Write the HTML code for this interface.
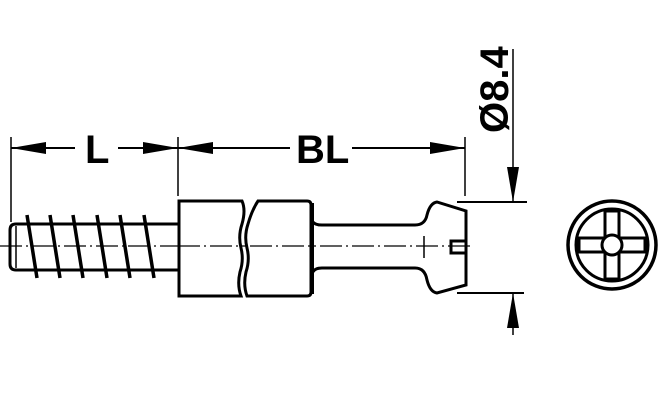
<!DOCTYPE html>
<html><head><style>html,body{margin:0;padding:0;background:#fff;width:660px;height:400px;overflow:hidden}</style></head>
<body>
<svg width="660" height="400" viewBox="0 0 660 400" xmlns="http://www.w3.org/2000/svg">
<g stroke="#000" fill="none">
<!-- extension lines -->
<line x1="11" y1="137" x2="11" y2="222" stroke-width="1.5"/>
<line x1="178" y1="137" x2="178" y2="196" stroke-width="1.5"/>
<line x1="465" y1="137" x2="465" y2="196" stroke-width="1.5"/>
<!-- dim line -->
<line x1="11" y1="148" x2="75" y2="148" stroke-width="2"/>
<line x1="118" y1="148" x2="178" y2="148" stroke-width="2"/>
<line x1="178" y1="148" x2="290" y2="148" stroke-width="2"/>
<line x1="352" y1="148" x2="465" y2="148" stroke-width="2"/>
<!-- vertical dim -->
<line x1="513" y1="49" x2="513" y2="202" stroke-width="1.5"/>
<line x1="457" y1="202" x2="527" y2="202" stroke-width="2"/>
<line x1="457" y1="293" x2="524" y2="293" stroke-width="2"/>
<line x1="513" y1="293" x2="513" y2="335" stroke-width="1.5"/>
<!-- centerline -->
<line x1="0" y1="246" x2="470" y2="246" stroke-width="1.2" stroke-dasharray="22,4,2,4"/>
<!-- shaft -->
<path d="M178,224 H16 Q10,224 10,230 V264 Q10,270 16,270 H178" stroke-width="3"/>
<line x1="16" y1="226" x2="16" y2="268" stroke-width="1.5"/>
<g stroke-width="3.5">
<line x1="27" y1="215" x2="37" y2="278"/>
<line x1="50" y1="215" x2="60" y2="278"/>
<line x1="73" y1="215" x2="83" y2="278"/>
<line x1="97" y1="215" x2="107" y2="278"/>
<line x1="120" y1="215" x2="130" y2="278"/>
<line x1="144" y1="215" x2="154" y2="278"/>
</g>
<!-- body -->
<path d="M242,201 H179 V296 H241 Q237,285 240,272 Q244,260 241,248 Q238,236 242,224 Q246,210 242,201 Z" stroke-width="3" fill="#fff"/>
<path d="M258,201 H307 Q311,201 311,205 V292 Q311,296 307,296 H247 Q243,285 246,272 Q250,260 247,248 Q244,236 248,224 Q252,210 258,201 Z" stroke-width="3" fill="#fff"/>
<line x1="178" y1="246" x2="240" y2="246" stroke-width="1.2" stroke-dasharray="22,4,2,4"/>
<line x1="250" y1="246" x2="310" y2="246" stroke-width="1.2" stroke-dasharray="22,4,2,4"/>
<line x1="313" y1="203" x2="313" y2="294" stroke-width="2"/>
<!-- neck -->
<path d="M313,222 Q315,225 322,225 H415 Q425,225 427,215 Q430,203 437,202 L466,211 V285 L437,293 Q430,292 427,280 Q425,268 415,268 H322 Q315,268 313,272" stroke-width="3"/>
<line x1="424" y1="236" x2="424" y2="258" stroke-width="1.5"/>
<path d="M466,241 H451 V253 H466" stroke-width="3"/>
<!-- end view -->
<circle cx="612" cy="245" r="44" stroke-width="3.5"/>
<circle cx="612" cy="245" r="36" stroke-width="3"/>
<path d="M605,211 H619 V238 H645 V252 H619 V279 H605 V252 H579 V238 H605 Z" stroke-width="3" fill="#fff"/>
<circle cx="612" cy="245" r="10" stroke-width="3" fill="#fff"/>
</g>
<g fill="#000">
<polygon points="11,148 46,142 46,154"/>
<polygon points="178,148 143,142 143,154"/>
<polygon points="178,148 213,142 213,154"/>
<polygon points="465,148 430,142 430,154"/>
<polygon points="513,202 507,167 519,167"/>
<polygon points="513,293 507,328 519,328"/>
</g>
<g font-family="Liberation Sans, sans-serif" font-weight="bold" fill="#000">
<text x="85" y="163" font-size="40">L</text>
<text x="296" y="163" font-size="40">BL</text>
<text transform="translate(508,133) rotate(-90)" font-size="40">Ø8.4</text>
</g>
</svg>
</body></html>
